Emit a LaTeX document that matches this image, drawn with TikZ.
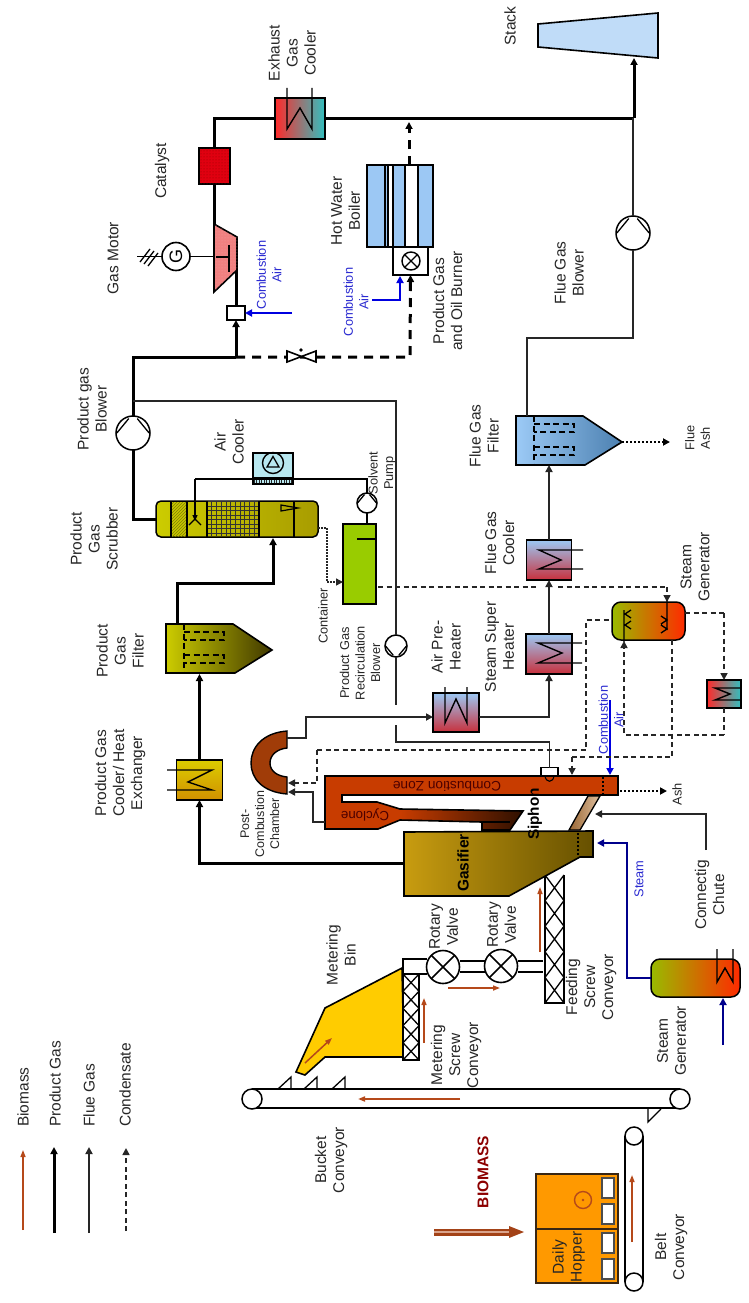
\documentclass[tikz,border=0pt]{standalone}
\usepackage{fontspec}
\usepackage{graphicx}
\setmainfont{Liberation Sans}
\usetikzlibrary{arrows.meta,patterns,calc}
\definecolor{brw}{HTML}{B5491A}
\definecolor{txt}{HTML}{262626}
\definecolor{blu}{HTML}{0000E0}
\definecolor{dblu}{HTML}{00008C}
\definecolor{tblu}{HTML}{2A2AD0}
\definecolor{hblue}{HTML}{9CC8F4}
\definecolor{hred}{HTML}{C8303C}
\definecolor{gold}{HTML}{C89C10}
\definecolor{golddk}{HTML}{665000}
\definecolor{zone}{HTML}{C83C00}
\definecolor{zonedk}{HTML}{2E1000}
\definecolor{chamb}{HTML}{A03C08}
\definecolor{binyel}{HTML}{FFCC00}
\definecolor{hop}{HTML}{FF9900}
\definecolor{genl}{HTML}{99BB00}
\definecolor{genm}{HTML}{D89000}
\definecolor{genr}{HTML}{FF2A00}
\definecolor{scrl}{HTML}{CCCC00}
\definecolor{scrr}{HTML}{A89C00}
\definecolor{filtl}{HTML}{CCCC00}
\definecolor{filtr}{HTML}{403800}
\definecolor{ffl}{HTML}{9CCAF6}
\definecolor{ffr}{HTML}{4C80B0}
\definecolor{cont}{HTML}{99CC00}
\definecolor{coolr}{HTML}{FF2A2A}
\definecolor{coolt}{HTML}{30C0C0}
\definecolor{pgt}{HTML}{DCCC00}
\definecolor{pgbm}{HTML}{D09000}
\definecolor{stk}{HTML}{C0DCF8}
\definecolor{acool}{HTML}{B8E8F0}
\definecolor{catr}{HTML}{E00010}
\definecolor{catd}{HTML}{900000}
\definecolor{mot}{HTML}{F08080}
\definecolor{motd}{HTML}{F4A0A0}
\newcommand{\pumpsym}[5]{%
  \node[pumpc,minimum size={2*#4}] (#1) at (#2,#3) {};
  \draw[line width=1.3,shift={(#2,#3)},yscale=#5] (-.95*#4,0)--(-.25*#4,-.85*#4) (.95*#4,0)--(.25*#4,-.85*#4);}
\newcommand{\filtersym}[4]{%
  \begin{scope}[shift={(#1,#2)}]
  \shadedraw[left color=#3,right color=#4,line width=1.6] (166,624)--(233,624)--(272,650)--(235,673)--(166,673)--cycle;
  \draw[line width=1.3,dash pattern=on 6 off 3.5] (184,624)--(184,673);
  \draw[line width=1.3,dash pattern=on 6 off 3.5] (184,632)--(224,632)--(224,640)--(184,640);
  \draw[line width=1.3,dash pattern=on 6 off 3.5] (184,655)--(224,655)--(224,663)--(184,663);
  \end{scope}}
\begin{document}
\begin{tikzpicture}[x=1pt,y=-1pt,
  lbl/.style={rotate=90,align=center,inner sep=0,text=txt,font=\fontsize{15.5}{18}\selectfont},
  lbs/.style={rotate=90,align=center,inner sep=0,text=txt,font=\fontsize{12.8}{15.5}\selectfont},
  lbb/.style={lbs,text=tblu},
  lgd/.style={lbl,anchor=west},
  pumpc/.style={draw,circle,fill=white,inner sep=0,line width=1.5,outer sep=0},
  eq/.style={draw,inner sep=0,outer sep=0,line width=1.5},
  valvec/.style={draw,circle,fill=white,inner sep=0,outer sep=0,line width=1.6,minimum size=33},
  tip/.style={-{Triangle[length=7pt,width=7pt]}},
  pg/.style={line width=3,black},
  pga/.style={pg,tip},
  fg/.style={line width=1.7,black!85},
  fga/.style={fg,tip},
  sol/.style={line width=1.3,black},
  cnd/.style={line width=1.6,black!85,dash pattern=on 5 off 3.5},
  cnda/.style={cnd,tip},
  dot/.style={line width=2.3,black,dash pattern=on 2 off 2,tip},
  pgd/.style={line width=3,black,dash pattern=on 9 off 7},
  bm/.style={line width=1.5,brw,-{Triangle[length=7pt,width=5pt]}},
  st/.style={line width=2.2,dblu,tip},
  air/.style={line width=1.8,blu,tip},
  hx/.style={line width=1.4},
  hxgrad/.style={eq,top color=hblue,bottom color=hred},
  gengrad/.style={eq,rounded corners=9,left color=genl,middle color=genm,right color=genr},
]
\useasboundingbox (0,0) rectangle (748,1303);

%% legend
\coordinate (lg1a) at (23,1230); \coordinate (lg1b) at (23,1150);
\coordinate (lg2a) at (54,1233); \coordinate (lg2b) at (54,1147);
\coordinate (lg3a) at (89,1233); \coordinate (lg3b) at (89,1147);
\coordinate (lg4a) at (126,1231);\coordinate (lg4b) at (126,1148);
\draw[bm] (lg1a)--(lg1b);
\draw[pga] (lg2a)--(lg2b);
\draw[fga] (lg3a)--(lg3b);
\draw[cnda] (lg4a)--(lg4b);
\node[lgd] (lgBio) at (23,1127) {Biomass};
\node[lgd] (lgPg) at (55,1127) {Product Gas};
\node[lgd] (lgFg) at (89,1127) {Flue Gas};
\node[lgd] (lgCo) at (125,1127) {Condensate};

%% bucket conveyor
\draw[line width=1.6] (252,1089)--(680,1089) (252,1108)--(680,1108);
\node[pumpc,minimum size=20] (bcA) at (252,1099) {};
\node[pumpc,minimum size=20] (bcB) at (680,1099) {};
\coordinate (bcArrA) at (460,1099); \coordinate (bcArrB) at (358,1099);
\draw[bm,line width=2] (bcArrA)--(bcArrB);
\foreach \bx in {278,304,332}{\draw[line width=1.3] (\bx,1089)--(\bx+13,1077)--(\bx+13,1089);}
\draw[line width=1.3] (661,1109)--(648,1122)--(648,1109);

%% belt conveyor
\node[pumpc,minimum size=18] (beA) at (634,1136) {};
\node[pumpc,minimum size=18] (beB) at (634,1282) {};
\draw[line width=1.6] (625,1136)--(625,1282) (643,1136)--(643,1282);
\coordinate (beArrA) at (632,1242); \coordinate (beArrB) at (632,1175);
\draw[bm] (beArrA)--(beArrB);

%% hopper
\node[eq,fill=hop,draw=black!70!brown,minimum width=82,minimum height=109] (hopper) at (577,1228.5) {};
\draw[line width=1.3,black!70!brown] (536,1229)--(618,1229);
\foreach \ya/\yb in {1178/1198,1204/1224,1233/1253,1259/1279}{\draw[fill=white,line width=1.2,draw=black!70] (602,\ya) rectangle (614,\yb);}
\node[draw=brw,circle,line width=1.4,minimum size=17,inner sep=0] (hopC) at (583,1200) {};
\fill[brw] (583,1200) circle (1.4);
\node[lbl] (lHop) at (568.5,1257) {Daily\\Hopper};

%% biomass arrow
\coordinate (bioA) at (434,1232); \coordinate (bioB) at (510,1232);
\draw[line width=7,color=brw!90!black] (bioA)--(bioB);
\draw[line width=1.6,color=brw!50!white] (bioA)--(bioB);
\fill[brw!90!black] (509,1226)--(524,1232)--(509,1238)--cycle;
\node[lbl,font=\fontsize{15.5}{18}\selectfont\bfseries,text=red!55!black] (lBio) at (483,1172) {BIOMASS};

%% metering bin + screw
\draw[fill=binyel,line width=1.6] (402,968)--(325,1008)--(296,1072)--(305,1075)--(325,1057)--(404,1057)--cycle;
\coordinate (mbA) at (305,1063); \coordinate (mbB) at (332,1038);
\draw[bm] (mbA)--(mbB);
\draw[line width=1.6,fill=white] (403,974) rectangle (419,1060);
\foreach \i in {0,...,4}{\draw[line width=1.3] (403,974+\i*17.2)--(419,974+\i*17.2+17.2) (419,974+\i*17.2)--(403,974+\i*17.2+17.2);}
\coordinate (msA) at (424,1043); \coordinate (msB) at (424,998);
\draw[bm] (msA)--(msB);

%% rotary valves
\node[valvec] (rv1) at (443,967) {};
\node[valvec] (rv2) at (501,966) {};
\draw[line width=1.6] (rv1.north west)--(rv1.south east) (rv1.north east)--(rv1.south west);
\draw[line width=1.6] (rv2.north west)--(rv2.south east) (rv2.north east)--(rv2.south west);
\draw[line width=1.6] (403,974)--(403,959)--(427,959) (417,974)--(427,974);
\draw[line width=1.6] (460,961)--(485,961) (460,972)--(485,972);
\draw[line width=1.6] (518,961)--(543,961) (518,972)--(543,972);
\coordinate (rvA) at (448,988); \coordinate (rvB) at (500,988);
\draw[bm] (rvA)--(rvB);

%% feeding screw
\draw[line width=1.6] (545,875)--(545,1003)--(564,1003)--(564,875);
\foreach \i in {0,...,4}{\draw[line width=1.3] (545,875+\i*25.6)--(564,875+\i*25.6+25.6) (564,875+\i*25.6)--(545,875+\i*25.6+25.6);}
\coordinate (fsA) at (540,952); \coordinate (fsB) at (540,887);
\draw[bm] (fsA)--(fsB);

%% gasifier
\shadedraw[left color=gold,right color=golddk,line width=1.6]
  (404,832)--(593,831)--(593,857)--(580,857)--(509,896)--(404,896)--cycle;
\draw[line width=1.6,dash pattern=on 2 off 2] (578,833)--(578,855);

%% siphon pipe
\shadedraw[left color=brown!80!black,right color=brown!50!white,line width=1.3] (588,796)--(600,796)--(580,830)--(569,830)--cycle;

%% combustion zone and cyclone
\path[fill=zone] (325,776)--(618,776)--(618,795)--(342,795)--(342,802)--(377,802)--(400,809)--(523,811)--(510,830)--(482,830)--(482,822)--(400,820)--(378,829)--(325,829)--cycle;
\shade[left color=zone,right color=zonedk] (400,809)--(523,811)--(510,830)--(482,830)--(482,822)--(400,820)--cycle;
\draw[line width=1.6] (325,776)--(618,776)--(618,795)--(342,795)--(342,802)--(377,802)--(400,809)--(523,811)--(510,830)--(482,830)--(482,822)--(400,820)--(378,829)--(325,829)--cycle;
\draw[line width=1.6,dash pattern=on 2 off 2] (603,777)--(603,794);
\draw[line width=1.2] (482,822)--(510,822);
\node[rotate=180,inner sep=0,text=black!70!red,font=\fontsize{13.7}{16}\selectfont] (lZone) at (447,786) {Combustion Zone};
\node[rotate=180,inner sep=0,text=black!70!red,font=\fontsize{13.3}{16}\selectfont] (lCyc) at (365,815) {Cyclone};
\node[lbl,font=\fontsize{15.5}{18}\selectfont\bfseries,text=black] (lGas) at (463,863) {Gasifier};
\node[lbl,font=\fontsize{15.3}{18}\selectfont\bfseries,text=black] (lSip) at (535,814) {Siphon};

%% post-combustion chamber
\draw[fill=chamb,line width=1.4] (287,731) .. controls (262,733) and (251,748) .. (251,763) .. controls (251,778) and (262,792) .. (287,794) -- (287,777) .. controls (277,776) and (270,771) .. (270,763) .. controls (270,755) and (277,749) .. (287,748) -- cycle;
\node[lbs,font=\fontsize{12.5}{15}\selectfont] (lPost) at (260,824) {Post-\\Combustion\\Chamber};

%% product gas path
\node[eq,top color=pgt,bottom color=pgbm,minimum width=46,minimum height=40] (pgc) at (199.5,780) {};
\draw[hx] (167,770)--(212,770)--(188,782)--(212,790)--(167,790);
\coordinate (gasOut) at (404,863);
\coordinate (f1b) at (199.5,674); \coordinate (f1t) at (177,624); \coordinate (f1bend) at (177,583);
\coordinate (scrubIn) at (273,538);
\draw[pga] (gasOut) -| (pgc.south);
\draw[pga] (pgc.north)--(f1b);
\draw[pga] (f1t)--(f1bend) -| (scrubIn);
\filtersym{0}{0}{filtl}{filtr}

%% scrubber
\node[eq,rounded corners=5,left color=scrl,right color=scrr,minimum width=162,minimum height=36] (scrub) at (237,519) {};
\path[pattern=north east lines,pattern color=black!50!yellow] (171,502) rectangle (187,536);
\foreach \gx in {207,211.7,...,260}{\draw[line width=.6,black!80] (\gx,502)--(\gx,536);}
\foreach \gy in {501.5,506,...,537}{\draw[line width=.6,black!80] (207,\gy)--(259,\gy);}
\draw[line width=1.4] (171,501)--(171,537) (187,501)--(187,537) (207,501)--(207,537) (259,501)--(259,537) (294,501)--(294,537);
\draw[line width=1.2] (281,505)--(298,508)--(281,511)--cycle;

%% blower to motor
\pumpsym{pgb}{133}{433}{17}{1}
\coordinate (pgj1) at (133,357); \coordinate (pgj2) at (236,357);
\node[eq,fill=white,minimum width=18,minimum height=14] (mix) at (236,313) {};
\coordinate (mot1) at (236,270); \coordinate (mot2) at (214.5,224);
\draw[pg] (scrub.west) -| (pgb.south);
\draw[pg] (pgb.north)--(pgj1)--(pgj2);
\draw[pga] (pgj2)--(mix.south);
\draw[pg] (mix.north)--(mot1);

%% gas motor
\draw[fill=mot,line width=1.6] (214,224)--(237,237)--(237,270)--(214,292)--cycle;
\path[pattern=dots,pattern color=motd] (214,224)--(237,237)--(237,270)--(214,292)--cycle;
\draw[line width=2] (229,245)--(229,272) (216,257)--(229,257);
\node[draw,circle,fill=white,line width=1.6,inner sep=0,minimum size=28,font=\fontsize{18}{18}\selectfont] (gen) at (176,256.5) {\rotatebox{90}{G}};
\coordinate (motShaft) at (214,256.5); \coordinate (grid) at (137,256.5);
\draw[line width=1.4] (gen.east)--(motShaft);
\draw[line width=1.4] (grid)--(gen.west);
\draw[line width=1.3] (140,262)--(150,249) (144,264)--(154,251) (148,266)--(158,253);

%% catalyst
\node[eq,fill=catr,minimum width=31,minimum height=36] (cat) at (214.5,166) {};
\path[pattern=dots,pattern color=catd] (199,148) rectangle (230,184);
\node[eq,left color=coolr,right color=coolt,minimum width=50,minimum height=41] (exh) at (300,118.5) {};
\draw[hx] (287,88)--(287,129)--(300,108)--(312,129)--(312,88);
\draw[pg] (mot2)--(cat.south);
\draw[pg] (cat.north) |- (exh.west);
\coordinate (stackJ) at (634,118.5); \coordinate (stackIn) at (634,58);
\draw[pg] (exh.east)--(stackJ);
\draw[pga] (stackJ)--(stackIn);

%% stack
\draw[fill=stk,line width=1.6] (538,24)--(658,13)--(658,58)--(538,47)--cycle;

%% boiler
\node[eq,fill=hblue,minimum width=66,minimum height=82] (boil) at (400,206) {};
\fill[white] (388,165.7) rectangle (393,246.3) (405,165.7) rectangle (418,246.3);
\draw[line width=1.2] (385,165)--(385,247) (388,165)--(388,247) (393,165)--(393,247) (405,165)--(405,247) (418,165)--(418,247);
\draw[line width=1.5] (367,165) rectangle (433,247);
\node[eq,fill=white,minimum width=35,minimum height=28,line width=1.2] (burn) at (410.5,261) {};
\node[draw,circle,line width=1.4,minimum size=18,inner sep=0] (burnC) at (411,261) {};
\draw[line width=1.4] (burnC.north west)--(burnC.south east) (burnC.north east)--(burnC.south west);

%% thick dashed branch
\coordinate (bdA) at (410,357); \coordinate (bdB) at (409,165); \coordinate (bdC) at (409,122);
\draw[pgd,tip] (pgj2)--(bdA)--(burn.south);
\draw[pgd,tip] (bdB)--(bdC);
\draw[line width=1.6,fill=white] (287,351)--(287,362)--(316,351)--(316,362)--cycle;
\fill (301,350) circle (1.8);

%% blue air inputs
\coordinate (caA) at (292,313);
\draw[air] (caA)--(mix.east);
\coordinate (cbA) at (372,300); \coordinate (cbK) at (400,300); \coordinate (cbB) at (400,276);
\draw[air,line width=2.2] (cbA)--(cbK)--(cbB);
\node[lbb] (lCa1) at (269,275) {Combustion\\Air};
\node[lbb] (lCa2) at (356,302) {Combustion\\Air};

%% air cooler
\node[eq,fill=acool,minimum width=40,minimum height=31] (acl) at (273,468.5) {};
\foreach \ax in {254,256.5,...,292}{\draw[line width=.8,black!85] (\ax,477)--(\ax,483);}
\draw[line width=1] (253,477)--(293,477);
\node[draw,circle,line width=1.4,minimum size=21,inner sep=0] (fan) at (273,463) {};
\draw[line width=1.3] (267,467)--(273,456.5)--(279,467)--cycle;

%% solvent loop
\node[eq,fill=cont,minimum width=33,minimum height=80,line width=1.2] (ctn) at (359.5,564) {};
\draw[line width=1.3] (357,539)--(376,539);
\pumpsym{sp}{367}{503}{10}{1}
\coordinate (sl1) at (367,479); \coordinate (sl2) at (195,479); \coordinate (sl3) at (195,521);
\draw[sol] (sp.north)--(sl1)--(sl2);
\draw[sol,-{Triangle[length=6pt,width=5pt]}] (sl2)--(sl3);
\draw[sol] (189,525)--(195,519)--(201,525);
\draw[sol] (sp.south)--(sp.south|-ctn.north);
\coordinate (ds1) at (318,528); \coordinate (ds2) at (327,528); \coordinate (ds3) at (327,582);
\draw[line width=1.4,black!85,dash pattern=on 1.5 off 1.5,tip] (ds1)--(ds2)--(ds3)--(ctn.west|-ds3);

%% flue gas path
\node[hxgrad,minimum width=46,minimum height=39] (aph) at (456,712.5) {};
\node[hxgrad,minimum width=46,minimum height=40] (ssh) at (549,654) {};
\node[hxgrad,minimum width=45,minimum height=40] (fgc) at (549,560) {};
\draw[hx] (445,687)--(445,723)--(456,699)--(467,723)--(467,687);
\draw[hx] (582,643)--(538,643)--(562,653)--(538,663)--(582,663);
\draw[hx] (583,550)--(539,550)--(561,560)--(539,569)--(583,569);
\filtersym{350}{-208}{ffl}{ffr}
\coordinate (pcIn) at (288,792); \coordinate (cb) at (325,822); \coordinate (cbk) at (313,822);
\coordinate (pcOut) at (287,738); \coordinate (b1) at (306,717); \coordinate (b2) at (549,717);
\coordinate (f2b) at (549,465); \coordinate (f2t) at (527,416); \coordinate (b3) at (527,338);
\pumpsym{fb}{633}{233}{17}{1}
\draw[fga] (cb)--(cbk)|-(pcIn);
\draw[fga] (pcOut)-|(b1)--(aph.west|-b1);
\draw[fga] (aph.east|-b2)--(b2)--(ssh.south);
\draw[fga] (ssh.north)--(fgc.south);
\draw[fga] (fgc.north)--(f2b);
\draw[fg] (f2t)--(b3)-|(fb.south);
\draw[fg] (fb.north)--(fb.north|-stackJ);

%% recirculation
\pumpsym{rb}{396}{646}{11}{-1}
\coordinate (r1) at (133,401); \coordinate (r3) at (396,705); \coordinate (r4) at (396,725); \coordinate (r5) at (396,742);
\node[eq,fill=white,line width=1.1,minimum width=17,minimum height=8] (sib) at (549.5,771.5) {};
\draw[line width=1.1] (545,776) .. controls (546,783) and (553,783) .. (554,776);
\draw[fg] (r1)-|(rb.north);
\draw[fg] (rb.south)--(r3);
\draw[fg] (r4)--(r5)-|(sib.north);

%% steam generators
\node[gengrad,minimum width=73,minimum height=38] (gen2) at (648.5,621) {};
\node[gengrad,minimum width=89,minimum height=38] (gen1) at (695.5,978) {};
\draw[hx] (717,949)--(717,982)--(725,968)--(733,982)--(733,949);
\node[eq,left color=coolr,right color=coolt,minimum width=34,minimum height=28] (shx) at (724,694) {};
\draw[hx] (741,688)--(715,688)--(730,694)--(715,700)--(741,700);
\draw[sol] (624,642)--(624,610) (631,610)--(625,614)--(631,618) (631,621)--(625,625)--(631,629);
\draw[sol] (667,600)--(667,630) (661,616)--(667,620)--(661,624) (661,625)--(667,629)--(661,633);

%% steam
\coordinate (s1) at (627,978); \coordinate (s2) at (627,843); \coordinate (s3) at (597,843);
\draw[st] (gen1.west)--(s1)--(s2)--(s3);
\coordinate (s4) at (723,1045); \coordinate (s5) at (723,998);
\draw[st] (s4)--(s5);

%% connecting chute
\coordinate (chA) at (706,850); \coordinate (chT) at (595,814);
\draw[fga] (chA)|-(chT);

%% combustion air
\coordinate (ca3) at (610,700); \coordinate (ca4) at (610,775);
\draw[air,line width=2] (ca3)--(ca4);

%% ash
\coordinate (ashA) at (620,791); \coordinate (ashB) at (667,791);
\draw[dot] (ashA)--(ashB);
\coordinate (faA) at (622,442); \coordinate (faB) at (670,442);
\draw[dot] (faA)--(faB);

%% condensate
\coordinate (c1) at (317,783); \coordinate (c2) at (288,783); \coordinate (c3) at (317,750); \coordinate (c4) at (586,750); \coordinate (c5) at (586,620);
\draw[cnda] (c3)--(c1)--(c2);
\draw[cnd] (c3)--(c4)--(c5)--(gen2.west|-c5);
\coordinate (c6) at (672,640); \coordinate (c7) at (672,757); \coordinate (c8) at (572,757); \coordinate (c9) at (572,775);
\draw[cnd] (c6)--(c7)--(c8);
\draw[cnda] (c8)--(c9);
\coordinate (c10) at (624,735); \coordinate (c11) at (724,735); \coordinate (c12) at (624,641);
\draw[cnda] (c11)--(c10)--(c12);
\draw[cnd] (shx.south)--(c11);
\coordinate (c13) at (724,613);
\draw[cnd] (gen2.east|-c13)--(c13);
\draw[cnda] (c13)--(shx.north);
\coordinate (c14) at (378,587); \coordinate (c14a) at (538,587); \coordinate (c14b) at (558,587); \coordinate (c15) at (667,587); \coordinate (c16) at (667,602);
\draw[cnd] (c14)--(c14a);
\draw[cnd] (c14b)--(c15);
\draw[cnda] (c15)--(c16);

%% labels
\node[lbl] (lMb) at (341,955) {Metering\\Bin};
\node[lbl] (lMs) at (456,1055) {Metering\\Screw\\Conveyor};
\node[lbl] (lBc) at (331,1160) {Bucket\\Conveyor};
\node[lbl] (lBe) at (671,1247) {Belt\\Conveyor};
\node[lbl] (lRv1) at (443.5,927) {Rotary\\Valve};
\node[lbl] (lRv2) at (501.5,925) {Rotary\\Valve};
\node[lbl] (lFs) at (591,987) {Feeding\\Screw\\Conveyor};
\node[lbl] (lSg1) at (671.5,1041) {Steam\\Generator};
\node[lbs] (lSt) at (639,879) [text=tblu] {Steam};
\node[lbl] (lCh) at (709.5,895) {Connectig\\Chute};
\node[lbs] (lAsh) at (677,794) {Ash};
\node[lbl] (lPgc) at (120,773) {Product Gas\\Cooler/ Heat\\Exchanger};
\node[lbl] (lPgf) at (120,651) {Product\\Gas\\Filter};
\node[lbl] (lPgs) at (94,539) {Product\\Gas\\Scrubber};
\node[lbl] (lPgb) at (92,409) {Product gas\\Blower};
\node[lbl] (lAc) at (229,442) {Air\\Cooler};
\node[lbs] (lSp) at (382,473) {Solvent\\Pump};
\node[lbs] (lCt) at (323,616) {Container};
\node[lbs] (lRc) at (360,663) {Product Gas\\Recirculation\\Blower};
\node[lbl] (lAph) at (446,647) {Air Pre-\\Heater};
\node[lbl] (lSsh) at (499.5,647) {Steam Super\\Heater};
\node[lbl] (lFgc) at (499.5,543) {Flue Gas\\Cooler};
\node[lbl] (lFgf) at (484,436) {Flue Gas\\Filter};
\node[lbs] (lFa) at (697.5,438) {Flue\\Ash};
\node[lbl] (lSg2) at (695,567) {Steam\\Generator};
\node[lbb] (lCa3) at (611,720) {Combustion\\Air};
\node[lbl] (lFgb) at (569,273) {Flue Gas\\Blower};
\node[lbl] (lStk) at (510,26) {Stack};
\node[lbl] (lExh) at (292,53) {Exhaust\\Gas\\Cooler};
\node[lbl] (lCat) at (162,171) {Catalyst};
\node[lbl] (lMot) at (113,258) {Gas Motor};
\node[lbl] (lBoi) at (345.5,211) {Hot Water\\Boiler};
\node[lbl] (lBur) at (447.5,301) {Product Gas\\and Oil Burner};
\end{tikzpicture}
\end{document}
